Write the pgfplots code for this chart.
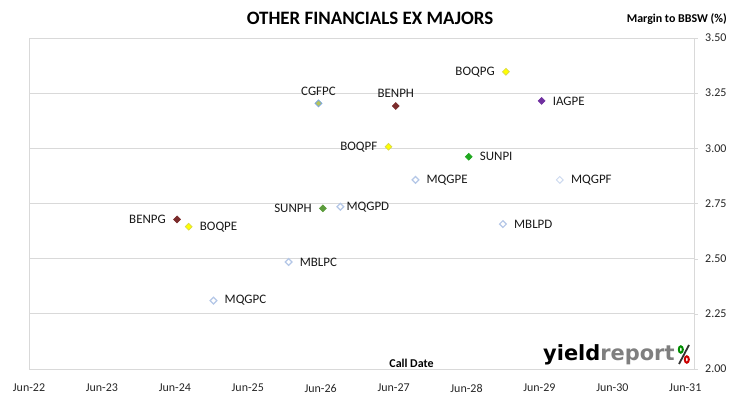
\documentclass[border=0pt]{standalone}
\usepackage{pgfplots}
\pgfplotsset{compat=1.18}
\usepackage{fontspec}
\setmainfont{Carlito}
\newfontfamily\logofont{DejaVu Sans}
\definecolor{gridc}{HTML}{D9D9D9}
\definecolor{yel}{HTML}{FFFF00}
\definecolor{yelo}{HTML}{D8D84A}
\definecolor{brn}{HTML}{7B2C2C}
\definecolor{pur}{HTML}{7030A0}
\definecolor{grn}{HTML}{20A820}
\definecolor{ogrn}{HTML}{5C9C3C}
\definecolor{lblue}{HTML}{B4C7E7}
\definecolor{llblue}{HTML}{CCD9EF}
\definecolor{cgb}{HTML}{7FA7D8}
\definecolor{cgf}{HTML}{B5C45A}
\pgfplotsset{
  dm/.style n args={3}{only marks, mark=square*, mark size=2.4bp,
    mark options={rotate=45, line width=#3, draw=#1, fill=#2}},
  lbl/.style={no marks, draw=none, nodes near coords, point meta=explicit symbolic,
    nodes near coords style={inner sep=0pt, font=\fontsize{13}{15}\selectfont, text=black!90, #1}},
}

\begin{document}
\begin{tikzpicture}[x=1bp,y=1bp]
\useasboundingbox (0,0) rectangle (730,399);
\begin{axis}[
  at={(29bp,30bp)}, anchor=south west,
  width=665bp, height=331bp, scale only axis,
  xmin=2022.5, xmax=2031.62, ymin=2, ymax=3.5,
  xtick={2022.5,2023.5,2024.5,2025.5,2026.5,2027.5,2028.5,2029.5,2030.5,2031.5},
  xticklabels={Jun-22,Jun-23,Jun-24,Jun-25,Jun-26,Jun-27,Jun-28,Jun-29,Jun-30,Jun-31},
  ytick={2,2.25,2.5,2.75,3,3.25,3.5},
  yticklabel pos=right, ytick pos=right,
  tick align=outside,
  major tick length=4bp,
  xtick style={draw=none},
  ytick style={gridc},
  ymajorgrids, grid style={gridc, line width=0.8bp},
  axis line style={gridc, line width=0.8bp},
  /pgf/number format/assume math mode=true,
  /pgf/number format/fixed, /pgf/number format/fixed zerofill, /pgf/number format/precision=2,
  tick label style={font=\fontsize{12}{14}\selectfont, text=black!85},
  y tick label style={anchor=west, inner sep=0pt, xshift=7bp},
  x tick label style={anchor=north, inner sep=0pt, yshift=-11bp},
  clip=false,
]
% yellow (BOQ)
\addplot[dm={yelo}{yel}{0.7bp}] coordinates {(2029.04,3.347) (2027.43,3.007) (2024.69,2.645)};
% brown (BEN)
\addplot[dm={brn}{brn}{0.7bp}] coordinates {(2027.53,3.192) (2024.53,2.678)};
% purple IAG
\addplot[dm={pur}{pur}{0.7bp}] coordinates {(2029.53,3.215)};
% green SUNPI
\addplot[dm={grn}{grn}{0.7bp}] coordinates {(2028.53,2.962)};
% olive green SUNPH
\addplot[dm={ogrn}{ogrn}{0.7bp}] coordinates {(2026.53,2.728)};
% CGFPC
\addplot[dm={cgb}{cgf}{0.9bp}] coordinates {(2026.47,3.204)};
% light blue open MQG / MBL
\addplot[dm={lblue}{white}{1.2bp}] coordinates {(2027.80,2.857) (2026.77,2.735) (2026.06,2.485) (2025.03,2.310) (2029.00,2.657)};
\addplot[dm={llblue}{white}{0.9bp}] coordinates {(2029.78,2.857)};
% labels: right of the point
\addplot[lbl={anchor=west, xshift=11bp}] table[meta=lab] {
x       y     lab
2029.53 3.215 IAGPE
2028.53 2.962 SUNPI
2027.80 2.857 MQGPE
2029.78 2.857 MQGPF
2024.69 2.645 BOQPE
2026.06 2.485 MBLPC
2025.03 2.310 MQGPC
2029.00 2.657 MBLPD
};
\addplot[lbl={anchor=west, xshift=6bp}] table[meta=lab] {
x       y     lab
2026.77 2.735 MQGPD
};
% labels: left of the point
\addplot[lbl={anchor=east, xshift=-11bp}] table[meta=lab] {
x       y     lab
2029.04 3.347 BOQPG
2027.43 3.007 BOQPF
2026.53 2.728 SUNPH
2024.53 2.678 BENPG
};
% labels: above the point
\addplot[lbl={anchor=south, yshift=8bp}] table[meta=lab] {
x       y     lab
2026.47 3.204 CGFPC
2027.53 3.192 BENPH
};
\end{axis}
\node[font=\bfseries\fontsize{19}{22}\selectfont] at (370,381) {OTHER FINANCIALS EX MAJORS};
\node[font=\bfseries\fontsize{12}{14}\selectfont, anchor=east, inner sep=0pt] at (727,379.7) {Margin to BBSW (\%)};
\node[font=\bfseries\fontsize{12}{14}\selectfont] at (411.5,35.7) {Call Date};
\node[font=\logofont\bfseries\fontsize{21}{24}\selectfont, anchor=base west, inner sep=0pt] at (543,38.3) {yield\textcolor[HTML]{7F7F7F}{report}};
% logo percent sign
\draw[black!80, line width=1.8bp] (689,54) -- (679,35);
\draw[draw=green!55!black, line width=2bp] (680.8,49.5) ellipse (2 and 3.2);
\draw[draw=red!80!black, line width=2bp] (686.8,39.5) ellipse (2 and 3.2);
\end{tikzpicture}
\end{document}
